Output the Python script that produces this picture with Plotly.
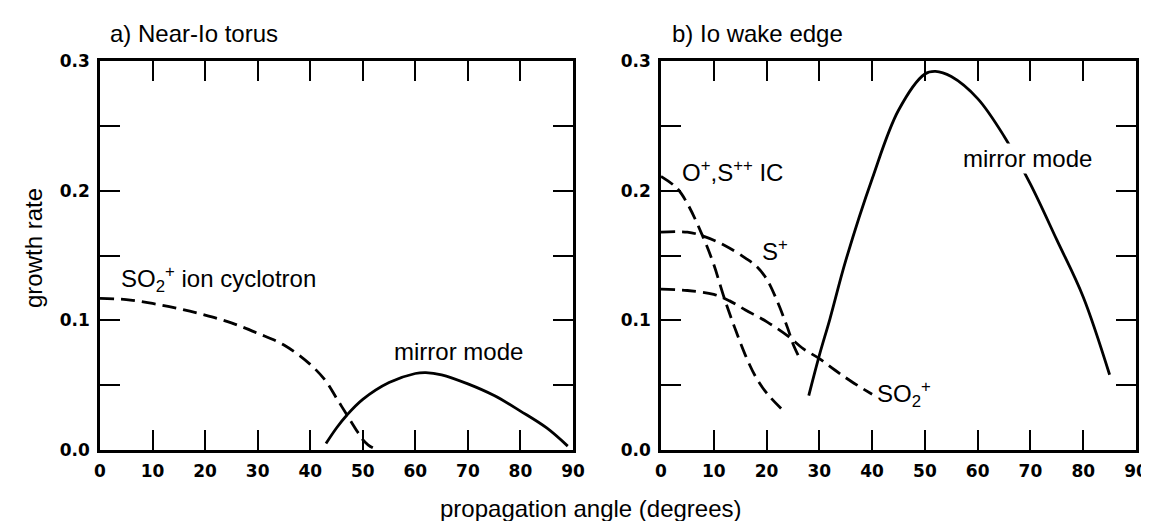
import plotly.graph_objects as go

# ---------------- data ----------------
# Panel a: Near-Io torus
a_ic_angle = [0, 5, 10, 15, 20, 25, 30, 35, 40, 43, 45, 47, 49, 50, 51, 52, 53]
a_ic_rate = [0.117, 0.116, 0.113, 0.109, 0.104, 0.098, 0.090, 0.081, 0.066, 0.053, 0.040, 0.027, 0.014, 0.008, 0.004, 0.0015, 0.0]

a_mm_angle = [43, 45, 47, 50, 55, 60, 62, 65, 70, 75, 80, 85, 89]
a_mm_rate = [0.005, 0.017, 0.027, 0.039, 0.052, 0.059, 0.0597, 0.058, 0.051, 0.042, 0.030, 0.017, 0.003]

# Panel b: Io wake edge
b_oic_angle = [0, 3, 5, 8, 10, 12, 14, 16, 18, 20, 23]
b_oic_rate = [0.211, 0.202, 0.190, 0.164, 0.143, 0.117, 0.094, 0.073, 0.056, 0.044, 0.031]

b_sp_angle = [0, 5, 8, 12, 16, 18, 20, 22, 24, 25, 26]
b_sp_rate = [0.168, 0.168, 0.165, 0.158, 0.148, 0.142, 0.132, 0.115, 0.094, 0.082, 0.073]

b_so2_angle = [0, 5, 10, 13, 16, 20, 24, 27, 30, 33, 36, 40]
b_so2_rate = [0.124, 0.123, 0.120, 0.115, 0.108, 0.099, 0.088, 0.078, 0.0705, 0.0615, 0.053, 0.043]

b_mm_angle = [28, 30, 32, 35, 40, 45, 50, 52, 55, 60, 65, 70, 75, 80, 85]
b_mm_rate = [0.042, 0.073, 0.101, 0.146, 0.209, 0.262, 0.290, 0.292, 0.288, 0.271, 0.242, 0.205, 0.162, 0.118, 0.058]

x_ticks = [0, 10, 20, 30, 40, 50, 60, 70, 80, 90]
y_ticks = [0.0, 0.05, 0.1, 0.15, 0.2, 0.25, 0.3]
y_ticktext = ["0.0", "", "0.1", "", "0.2", "", "0.3"]

# ---------------- figure ----------------
W, H = 1149, 521
fig = go.Figure()

dash = "14px,7px"
lw = 2.8
black = "#000000"

fig.add_trace(go.Scatter(x=a_ic_angle, y=a_ic_rate, mode="lines", line=dict(color=black, width=lw, dash=dash, shape="spline"), xaxis="x", yaxis="y"))
fig.add_trace(go.Scatter(x=a_mm_angle, y=a_mm_rate, mode="lines", line=dict(color=black, width=lw, shape="spline"), xaxis="x", yaxis="y"))

fig.add_trace(go.Scatter(x=b_oic_angle, y=b_oic_rate, mode="lines", line=dict(color=black, width=lw, dash=dash, shape="spline"), xaxis="x2", yaxis="y2"))
fig.add_trace(go.Scatter(x=b_sp_angle, y=b_sp_rate, mode="lines", line=dict(color=black, width=lw, dash=dash, shape="spline"), xaxis="x2", yaxis="y2"))
fig.add_trace(go.Scatter(x=b_so2_angle, y=b_so2_rate, mode="lines", line=dict(color=black, width=lw, dash=dash, shape="spline"), xaxis="x2", yaxis="y2"))
fig.add_trace(go.Scatter(x=b_mm_angle, y=b_mm_rate, mode="lines", line=dict(color=black, width=lw, shape="spline"), xaxis="x2", yaxis="y2"))

tickfont = dict(family="DejaVu Sans", size=17, color=black, weight="bold")
common_x = dict(range=[0, 90], tickvals=x_ticks, ticks="inside", ticklen=20, tickwidth=2, tickcolor=black,
                showline=True, linewidth=2.5, linecolor=black, mirror="ticks", showgrid=False, zeroline=False,
                tickfont=tickfont, automargin=False, fixedrange=True, ticklabelstandoff=4)
common_y = dict(range=[0, 0.3], tickvals=y_ticks, ticktext=y_ticktext, ticks="inside", ticklen=20, tickwidth=2,
                tickcolor=black, showline=True, linewidth=2.5, linecolor=black, mirror="ticks", showgrid=False,
                zeroline=False, tickfont=tickfont, automargin=False, fixedrange=True, ticklabelstandoff=4)

ax_a = [92 / W, 565 / W]
ax_b = [653 / W, 1128 / W]
ay = [(H - 442) / H, (H - 53) / H]

fig.update_layout(
    width=W, height=H,
    margin=dict(l=0, r=0, t=0, b=0),
    paper_bgcolor="white", plot_bgcolor="white",
    showlegend=False,
    font=dict(family="Liberation Sans, Arial, sans-serif", color=black),
    xaxis=dict(domain=ax_a, anchor="y", **common_x),
    yaxis=dict(domain=ay, anchor="x", **common_y),
    xaxis2=dict(domain=ax_b, anchor="y2", **common_x),
    yaxis2=dict(domain=ay, anchor="x2", **common_y),
)

lab = dict(family="Liberation Sans, Arial, sans-serif", size=24, color=black)

def px(xp, yp):
    return xp / W, 1 - yp / H

annots = []
# titles
x, y = px(100, 25)
annots.append(dict(text="a) Near-Io torus", x=x, y=y, xref="paper", yref="paper", xanchor="left", yanchor="middle", showarrow=False, font=lab))
x, y = px(662, 25)
annots.append(dict(text="b) Io wake edge", x=x, y=y, xref="paper", yref="paper", xanchor="left", yanchor="middle", showarrow=False, font=lab))
# axis titles
x, y = px(25, 240)
annots.append(dict(text="growth rate", x=x, y=y, xref="paper", yref="paper", xanchor="center", yanchor="middle", textangle=-90, showarrow=False, font=lab))
x, y = px(583, 500)
annots.append(dict(text="propagation angle (degrees)", x=x, y=y, xref="paper", yref="paper", xanchor="center", yanchor="middle", showarrow=False, font=lab))

# curve labels, panel a
annots.append(dict(text="SO<sub>2</sub><sup>+</sup> ion cyclotron", x=3.7, y=0.132, xref="x", yref="y", xanchor="left", yanchor="middle", showarrow=False, font=lab))
annots.append(dict(text="mirror mode", x=55.5, y=0.0756, xref="x", yref="y", xanchor="left", yanchor="middle", showarrow=False, font=lab))
# curve labels, panel b
annots.append(dict(text="O<sup>+</sup>,S<sup>++</sup> IC", x=3.6, y=0.215, xref="x2", yref="y2", xanchor="left", yanchor="middle", showarrow=False, font=lab, bgcolor="white"))
annots.append(dict(text="S<sup>+</sup>", x=18.8, y=0.154, xref="x2", yref="y2", xanchor="left", yanchor="middle", showarrow=False, font=lab))
annots.append(dict(text="SO<sub>2</sub><sup>+</sup>", x=40.5, y=0.043, xref="x2", yref="y2", xanchor="left", yanchor="middle", showarrow=False, font=lab))
annots.append(dict(text="mirror mode", x=56.8, y=0.225, xref="x2", yref="y2", xanchor="left", yanchor="middle", showarrow=False, font=lab, bgcolor="white"))

fig.update_layout(annotations=annots)

fig.write_html("out.html")
